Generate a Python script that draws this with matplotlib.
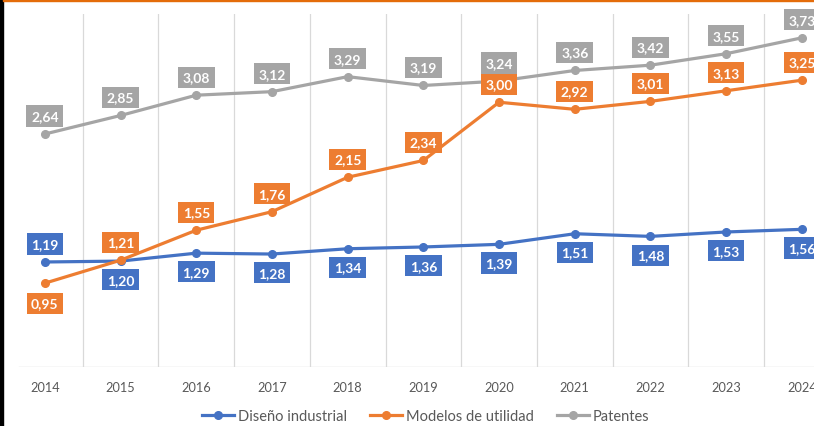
import matplotlib
matplotlib.use("Agg")
import matplotlib.pyplot as plt
from matplotlib.patches import Rectangle

years = ["2014", "2015", "2016", "2017", "2018", "2019", "2020", "2021", "2022", "2023", "2024"]
diseno = [1.19, 1.20, 1.29, 1.28, 1.34, 1.36, 1.39, 1.51, 1.48, 1.53, 1.56]
modelos = [0.95, 1.21, 1.55, 1.76, 2.15, 2.34, 3.00, 2.92, 3.01, 3.13, 3.25]
patentes = [2.64, 2.85, 3.08, 3.12, 3.29, 3.19, 3.24, 3.36, 3.42, 3.55, 3.73]
series_names = ["Diseño industrial", "Modelos de utilidad", "Patentes"]

# label placement: +1 above, -1 below
pos_diseno = [1, -1, -1, -1, -1, -1, -1, -1, -1, -1, -1]
pos_modelos = [-1, 1, 1, 1, 1, 1, 1, 1, 1, 1, 1]
pos_patentes = [1] * 11

colors = ["#4472C4", "#ED7D31", "#A5A5A5"]

plt.rcParams['font.family'] = ['Lato', 'DejaVu Sans']

W, H = 814, 427
fig = plt.figure(figsize=(W / 100, H / 100), dpi=100)
left_px, right_px = 7, 814
bot_px, top_px = 427 - 368, 427 - 15
ax = fig.add_axes([left_px / W, bot_px / H, (right_px - left_px) / W, (top_px - bot_px) / H])

n = len(years)
xs = list(range(n))
xmax = (right_px - left_px) / 75.7 - 0.5
ax.set_xlim(-0.5, xmax)
ax.set_ylim(0, 4)

for s in ax.spines.values():
    s.set_visible(False)
ax.set_yticks([])
ax.set_xticks(xs)
ax.set_xticklabels(years, color="#595959", fontsize=9.2)
ax.tick_params(axis='x', length=0, pad=10)

# vertical gridlines between categories
for i in range(n):
    ax.plot([i + 0.5, i + 0.5], [0, 4], color="#D9D9D9", lw=0.9, zorder=0, clip_on=True)
# axis line
ax.plot([-0.5 + 12 / 75.7, xmax], [0, 0], color="#D9D9D9", lw=1.0, zorder=0)

handles = []
for vals, col, name, poss in zip([diseno, modelos, patentes], colors, series_names,
                                 [pos_diseno, pos_modelos, pos_patentes]):
    h, = ax.plot(xs, vals, color=col, lw=2.3, marker='o', markersize=5.5, label=name, zorder=3,
                 clip_on=False)
    handles.append(h)
    for x, v, p in zip(xs, vals, poss):
        off = 13 if p > 0 else -13.5
        if name == "Modelos de utilidad" and p < 0:
            off = -14.5
        ax.annotate(f"{v:.2f}".replace('.', ','), (x, v), xytext=(0, off), textcoords='offset points',
                    ha='center', va='center', color='white', fontsize=10, fontweight='bold',
                    bbox=dict(boxstyle='square,pad=0.33', fc=col, ec='none'), zorder=5,
                    annotation_clip=False)

leg = fig.legend(handles=handles, loc='center', bbox_to_anchor=(426 / W, 10 / H), ncol=3,
                 frameon=False, fontsize=10.5, handlelength=2.2, handletextpad=0.25,
                 columnspacing=1.6, labelcolor="#595959")

# border fragments
fig.patches.append(Rectangle((0, 0), 3 / W, 1, transform=fig.transFigure, color='black', zorder=10))
fig.patches.append(Rectangle((3 / W, 1 - 2 / H), 1, 2 / H, transform=fig.transFigure,
                             color='#E46C0A', zorder=10))

fig.savefig("out.png", dpi=100)
